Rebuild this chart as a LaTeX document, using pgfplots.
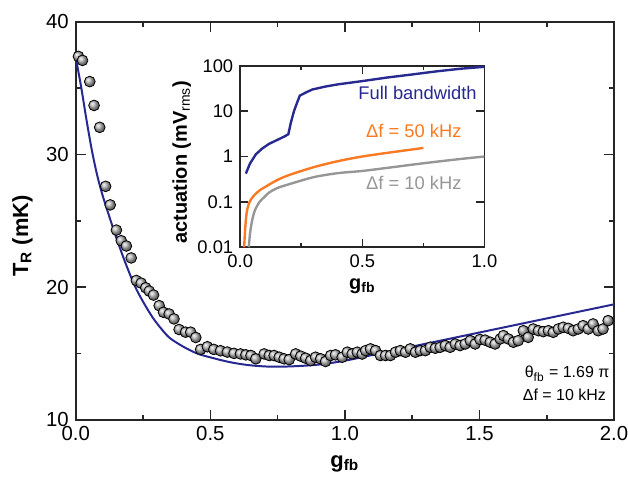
\documentclass[border=0pt]{standalone}
\usepackage{fontspec}
\setmainfont{Liberation Sans}
\usepackage{pgfplots}
\pgfplotsset{compat=1.18}
\definecolor{navy}{RGB}{40,40,145}
\definecolor{orng}{RGB}{250,122,35}
\definecolor{gry}{RGB}{150,150,150}
\begin{document}
\begin{tikzpicture}
\begin{axis}[
  scale only axis, width=270pt, height=199.5pt,
  xmin=0, xmax=2, ymin=10, ymax=40,
  xtick={0,0.5,1,1.5,2}, xticklabels={0.0,0.5,1.0,1.5,2.0},
  ytick={10,20,30,40},
  minor xtick={0.25,0.75,1.25,1.75}, minor ytick={15,25,35},
  major tick length=5pt, minor tick length=2.5pt,
  axis line style={line width=0.9pt, black!85},
  every tick/.style={line width=0.8pt, black!85},
  tick label style={font=\fontsize{10.2}{12}\selectfont},
  /pgf/number format/assume math mode=true,
  xlabel={\textbf{g\textsubscript{fb}}},
  ylabel={\textbf{T\textsubscript{R} (mK)}},
  label style={font=\fontsize{11}{13}\selectfont},
  xlabel style={at={(axis description cs:0.5,-0.11)}, anchor=center},
  ylabel style={at={(axis description cs:-0.099,0.462)}, anchor=center},
  clip=false,
]
\coordinate (tl) at (rel axis cs:0,1);
\addplot[only marks, mark=ball, ball color=gray!60, mark size=2.7pt] coordinates {
(0.010,37.4)(0.025,37.1)(0.052,35.5)(0.068,33.7)(0.089,32.05)(0.111,27.6)(0.128,26.2)
(0.151,24.3)(0.169,23.5)(0.188,23.1)(0.206,22.2)(0.225,20.5)(0.243,20.3)(0.260,19.95)
(0.273,19.7)(0.289,19.4)(0.310,18.6)(0.326,18.1)(0.347,17.97)(0.365,17.6)(0.384,16.8)
(0.408,16.6)(0.427,16.6)(0.446,16.2)(0.464,15.3)(0.489,15.5)(0.513,15.3)(0.538,15.2)
(0.563,15.1)(0.588,15.0)(0.612,14.96)(0.632,14.89)(0.651,14.84)(0.669,14.59)(0.700,14.96)
(0.719,14.84)(0.737,14.84)(0.756,14.71)(0.774,14.59)(0.793,14.53)(0.817,14.96)(0.836,14.79)
(0.854,14.64)(0.873,14.46)(0.891,14.71)(0.910,14.59)(0.928,14.39)(0.947,14.84)(0.965,14.89)
(0.990,14.71)(1.009,15.09)(1.027,14.96)(1.046,15.09)(1.064,14.95)(1.077,15.21)(1.095,15.34)
(1.114,15.21)(1.132,14.84)(1.151,14.84)(1.169,14.84)(1.188,15.09)(1.206,15.21)(1.225,15.09)
(1.243,15.34)(1.262,15.09)(1.280,15.21)(1.299,15.21)(1.317,15.46)(1.336,15.39)(1.354,15.46)
(1.373,15.59)(1.391,15.46)(1.410,15.71)(1.428,15.59)(1.447,15.71)(1.466,15.96)(1.484,15.71)
(1.502,16.05)(1.521,16.0)(1.540,15.84)(1.558,15.71)(1.577,16.09)(1.589,16.34)(1.607,16.09)
(1.626,15.84)(1.644,15.96)(1.663,16.71)(1.681,16.21)(1.700,16.84)(1.719,16.71)(1.737,16.64)
(1.756,16.71)(1.774,16.59)(1.793,16.84)(1.811,16.97)(1.830,16.89)(1.848,16.71)(1.867,16.84)
(1.885,17.09)(1.904,16.84)(1.922,17.22)(1.941,16.71)(1.959,16.84)(1.978,17.47)
};
\addplot[navy, line width=1pt, smooth] coordinates {
(0.000,37.3)(0.020,35.1)(0.040,32.6)(0.060,30.3)(0.080,28.4)(0.100,26.9)(0.125,25.3)
(0.151,23.7)(0.185,21.8)(0.219,20.1)(0.250,18.9)(0.286,17.7)(0.320,16.8)(0.350,16.15)
(0.400,15.5)(0.450,15.0)(0.500,14.7)(0.570,14.35)(0.640,14.12)(0.720,14.0)(0.800,14.02)
(0.900,14.15)(1.000,14.45)(1.130,15.0)(1.200,15.3)(1.400,16.15)(1.600,17.0)(1.800,17.85)(2.000,18.7)
};
\node[anchor=east, font=\fontsize{8}{9}\selectfont, inner sep=0pt] at (axis cs:1.984,13.46) {θ\textsubscript{fb} = 1.69 π};
\node[anchor=east, font=\fontsize{8}{9}\selectfont, inner sep=0pt] at (axis cs:1.971,11.9) {Δf = 10 kHz};
\end{axis}
\begin{axis}[
  at={(tl)}, anchor=north west, xshift=82.5pt, yshift=-22pt,
  scale only axis, width=122.5pt, height=91pt,
  xmin=0, xmax=1, ymode=log, ymin=0.01, ymax=100,
  xtick={0,0.5,1}, xticklabels={0.0,0.5,1.0}, minor xtick={0.25,0.75},
  ytick={0.01,0.1,1,10,100}, yticklabels={0.01,0.1,1,10,100},
  yminorticks=false,
  major tick length=4pt, minor tick length=2pt,
  axis line style={line width=0.9pt, black!85},
  every tick/.style={line width=0.8pt, black!85},
  tick label style={font=\fontsize{9.2}{10}\selectfont},
  /pgf/number format/assume math mode=true,
  xlabel={\textbf{g\textsubscript{fb}}},
  ylabel={\textbf{actuation (mV\textsubscript{\mdseries rms})}},
  label style={font=\fontsize{10}{11}\selectfont},
  xlabel style={at={(axis description cs:0.5,-0.214)}, anchor=center},
  ylabel style={at={(axis description cs:-0.24,0.47)}, anchor=center},
]
\addplot[navy, line width=1.2pt] coordinates {
(0.023,0.42)(0.04,0.7)(0.064,1.12)(0.09,1.5)(0.118,1.9)(0.15,2.3)(0.18,2.75)(0.197,3.1)
(0.207,5.5)(0.22,10)(0.232,15)(0.244,22)(0.27,26)(0.295,30)(0.35,35)(0.4,39)(0.5,46)
(0.6,55)(0.7,64)(0.8,75)(0.9,86)(1.0,95)
};
\addplot[orng, line width=1.2pt, smooth] coordinates {
(0.016,0.01)(0.019,0.02)(0.023,0.04)(0.028,0.065)(0.035,0.09)(0.045,0.115)(0.06,0.145)
(0.08,0.18)(0.1,0.21)(0.15,0.3)(0.2,0.39)(0.3,0.58)(0.4,0.79)(0.5,1.0)(0.6,1.2)(0.7,1.42)(0.75,1.55)
};
\addplot[gry, line width=1.2pt, smooth] coordinates {
(0.035,0.01)(0.04,0.02)(0.045,0.03)(0.05,0.042)(0.06,0.065)(0.078,0.098)(0.1,0.13)
(0.118,0.16)(0.15,0.2)(0.2,0.245)(0.3,0.35)(0.4,0.43)(0.5,0.48)(0.6,0.56)(0.75,0.71)(0.9,0.88)(1.0,1.0)
};
\node[anchor=west, text=navy, font=\fontsize{9.2}{10}\selectfont] at (axis cs:0.455,25) {Full bandwidth};
\node[anchor=west, text=orng, font=\fontsize{9.2}{10}\selectfont] at (axis cs:0.487,3.63) {Δf = 50 kHz};
\node[anchor=west, text=gry, font=\fontsize{9.2}{10}\selectfont] at (axis cs:0.487,0.257) {Δf = 10 kHz};
\end{axis}
\pgfresetboundingbox
\path (tl) ++(-38pt,11pt) rectangle ++(315pt,-247.5pt);
\end{tikzpicture}
\end{document}
